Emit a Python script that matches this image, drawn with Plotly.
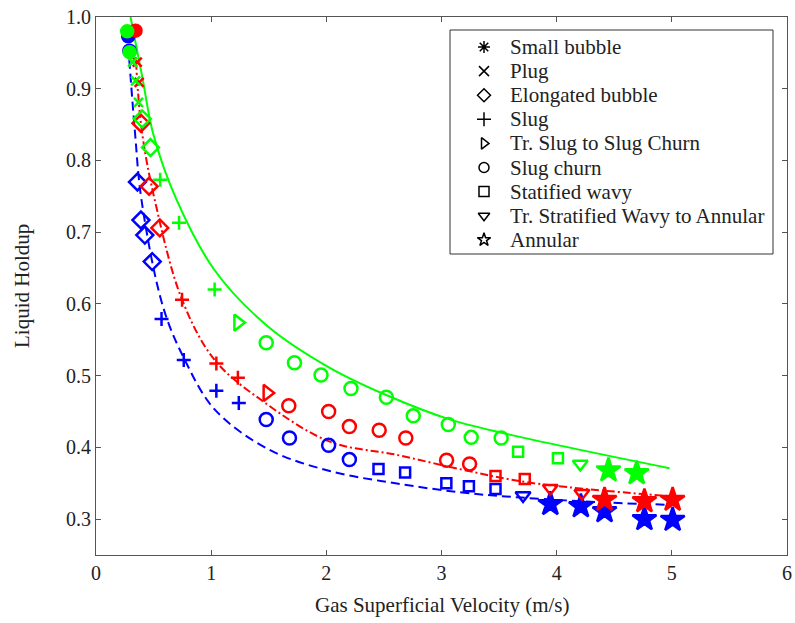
import plotly.graph_objects as go

# regimes in legend order
regimes = ["Small bubble", "Plug", "Elongated bubble", "Slug", "Tr. Slug to Slug Churn",
           "Slug churn", "Statified wavy", "Tr. Stratified Wavy to Annular", "Annular"]
legend_symbols = ["asterisk-open", "x-thin-open", "diamond-open", "cross-thin-open", "triangle-right-open",
                  "circle-open", "square-open", "triangle-down-open", "star-open"]
plot_symbols = ["circle", "x-thin-open", "diamond-open", "cross-thin-open", "triangle-right-open",
                "circle-open", "square-open", "triangle-down-open", "star"]

# measured points, blue series
blue_x = [0.28, 0.29, 0.36, 0.39, 0.424, 0.488, 0.569, 0.762, 1.045, 1.24,
          1.478, 1.68, 2.02, 2.2, 2.453, 2.684, 3.042, 3.238, 3.469, 3.708,
          3.945, 4.21, 4.416, 4.762, 5.007]
blue_y = [0.973, 0.953, 0.770, 0.717, 0.696, 0.659, 0.579, 0.522, 0.479, 0.462,
          0.439, 0.413, 0.403, 0.383, 0.370, 0.365, 0.350, 0.346, 0.342, 0.333,
          0.321, 0.318, 0.311, 0.300, 0.299]
blue_regime = ["Small bubble"] * 2 + ["Elongated bubble"] * 4 + ["Slug"] * 4 + ["Slug churn"] * 4 + \
              ["Statified wavy"] * 5 + ["Tr. Stratified Wavy to Annular"] + ["Annular"] * 5

# red series
red_x = [0.343, 0.358, 0.375, 0.39, 0.461, 0.554, 0.747, 1.045, 1.232, 1.486,
         1.674, 2.02, 2.2, 2.459, 2.69, 3.044, 3.244, 3.469, 3.723, 3.945,
         4.219, 4.416, 4.762, 5.007]
red_y = [0.981, 0.937, 0.909, 0.852, 0.764, 0.706, 0.606, 0.517, 0.497, 0.476,
         0.458, 0.450, 0.429, 0.424, 0.413, 0.382, 0.377, 0.360, 0.356, 0.343,
         0.336, 0.327, 0.325, 0.327]
red_regime = ["Small bubble"] + ["Plug"] * 2 + ["Elongated bubble"] * 3 + ["Slug"] * 3 + \
             ["Tr. Slug to Slug Churn"] + ["Slug churn"] * 7 + ["Statified wavy"] * 2 + \
             ["Tr. Stratified Wavy to Annular"] * 2 + ["Annular"] * 3

# green series
green_x = [0.271, 0.292, 0.318, 0.344, 0.369, 0.401, 0.473, 0.557, 0.721, 1.03,
           1.232, 1.478, 1.723, 1.954, 2.214, 2.521, 2.755, 3.059, 3.258, 3.518,
           3.665, 4.011, 4.205, 4.45, 4.695]
green_y = [0.980, 0.951, 0.937, 0.911, 0.881, 0.858, 0.818, 0.773, 0.713, 0.620,
           0.574, 0.546, 0.518, 0.501, 0.482, 0.470, 0.444, 0.432, 0.414, 0.413,
           0.394, 0.385, 0.377, 0.368, 0.364]
green_regime = ["Small bubble"] * 2 + ["Plug"] * 3 + ["Elongated bubble"] * 2 + ["Slug"] * 3 + \
               ["Tr. Slug to Slug Churn"] + ["Slug churn"] * 9 + ["Statified wavy"] * 2 + \
               ["Tr. Stratified Wavy to Annular"] + ["Annular"] * 2

# model curves
green_line_x = [0.30, 0.40, 0.50, 0.70, 1.03, 1.49, 2.03, 2.52, 3.07, 3.67, 4.98]
green_line_y = [1.0, 0.918, 0.835, 0.745, 0.647, 0.569, 0.511, 0.473, 0.439, 0.415, 0.371]
red_line_x = [0.34, 0.395, 0.51, 0.747, 1.03, 1.435, 2.03, 2.6, 3.18, 3.76, 4.98]
red_line_y = [0.96, 0.845, 0.745, 0.606, 0.522, 0.466, 0.408, 0.390, 0.369, 0.351, 0.332]
blue_line_x = [0.28, 0.338, 0.395, 0.582, 0.771, 1.03, 1.49, 2.03, 2.6, 3.18, 3.7, 4.45, 4.98]
blue_line_y = [0.96, 0.84, 0.745, 0.596, 0.522, 0.453, 0.398, 0.367, 0.350, 0.337, 0.330, 0.323, 0.320]

sizes = {"Small bubble": 12, "Plug": 9, "Elongated bubble": 13, "Slug": 10, "Tr. Slug to Slug Churn": 14,
         "Slug churn": 13, "Statified wavy": 10, "Tr. Stratified Wavy to Annular": 13, "Annular": 18}

SERIF = "Liberation Serif, Times New Roman, serif"
W, H = 795, 623
L, R, T, B = 96, 8, 17, 68
PW, PH = W - L - R, H - T - B

fig = go.Figure()

series = [("#0000ff", blue_x, blue_y, blue_regime, blue_line_x, blue_line_y, "9px,5px"),
          ("#ff0000", red_x, red_y, red_regime, red_line_x, red_line_y, "8px,3px,2px,3px"),
          ("#00ff00", green_x, green_y, green_regime, green_line_x, green_line_y, "solid")]

for color, xs, ys, regs, lx, ly, dash in series:
    fig.add_trace(go.Scatter(x=lx, y=ly, mode="lines", line=dict(color=color, width=2, dash=dash, shape="spline"),
                             showlegend=False, hoverinfo="skip"))

for color, xs, ys, regs, lx, ly, dash in series:
    for reg, sym in zip(regimes, plot_symbols):
        px_ = [x for x, r in zip(xs, regs) if r == reg]
        py_ = [y for y, r in zip(ys, regs) if r == reg]
        if not px_:
            continue
        fig.add_trace(go.Scatter(x=px_, y=py_, mode="markers", showlegend=False, name=reg,
                                 marker=dict(symbol=sym, size=sizes[reg], color=color,
                                             line=dict(color=color, width=2.5))))

# hand-made legend box (black symbols, serif text)
leg_left, leg_right, leg_top, leg_bottom = 354, 677, 13, 237   # px inside plot area
item_top, item_step = 30, 24.1
leg_y = [1 - (item_top + i * item_step) / PH for i in range(len(regimes))]
fig.add_shape(type="rect", xref="paper", yref="paper",
              x0=leg_left / PW, x1=leg_right / PW, y0=1 - leg_bottom / PH, y1=1 - leg_top / PH,
              line=dict(color="#333333", width=1), fillcolor="white", layer="below")
fig.add_trace(go.Scatter(x=[388 / PW] * len(regimes), y=leg_y, xaxis="x2", yaxis="y2", mode="markers",
                         showlegend=False, hoverinfo="skip",
                         marker=dict(symbol=legend_symbols, size=10, color="black",
                                     line=dict(color="black", width=1.5))))
for reg, yy in zip(regimes, leg_y):
    fig.add_annotation(text=reg, xref="paper", yref="paper", x=412 / PW, y=yy, xanchor="left",
                       yanchor="middle", showarrow=False, font=dict(family=SERIF, size=21, color="#222222"))

# axis titles
fig.add_annotation(text="Gas Superficial Velocity (m/s)", xref="paper", yref="paper", x=0.5, y=-50 / PH,
                   xanchor="center", yanchor="middle", showarrow=False,
                   font=dict(family=SERIF, size=21, color="#222222"))
fig.add_annotation(text="Liquid Holdup", xref="paper", yref="paper", x=-74 / PW, y=0.5, textangle=-90,
                   xanchor="center", yanchor="middle", showarrow=False,
                   font=dict(family=SERIF, size=21, color="#222222"))

axis_common = dict(showline=True, linecolor="#555555", linewidth=1, mirror="ticks", ticks="inside",
                   ticklen=5, tickcolor="#555555", showgrid=False, zeroline=False, automargin=False,
                   ticklabeloverflow="allow",
                   tickfont=dict(family=SERIF, size=20, color="#222222"))

fig.update_layout(
    width=W, height=H,
    margin=dict(l=L, r=R, t=T, b=B),
    plot_bgcolor="white", paper_bgcolor="white",
    font=dict(family=SERIF, color="#222222"),
    showlegend=False,
    xaxis=dict(range=[0, 6], dtick=1, **axis_common),
    yaxis=dict(range=[0.25, 1.0], tickvals=[0.3, 0.4, 0.5, 0.6, 0.7, 0.8, 0.9, 1.0],
               ticktext=["0.3", "0.4", "0.5", "0.6", "0.7", "0.8", "0.9", "1.0"], **axis_common),
    xaxis2=dict(range=[0, 1], overlaying="x", visible=False, fixedrange=True),
    yaxis2=dict(range=[0, 1], overlaying="y", visible=False, fixedrange=True),
)

# drop the default 8px body margin so the figure fills the window exactly
fig.write_html("out.html", config={"displayModeBar": False},
               post_script="document.body.style.margin='0';document.body.style.overflow='hidden';")
